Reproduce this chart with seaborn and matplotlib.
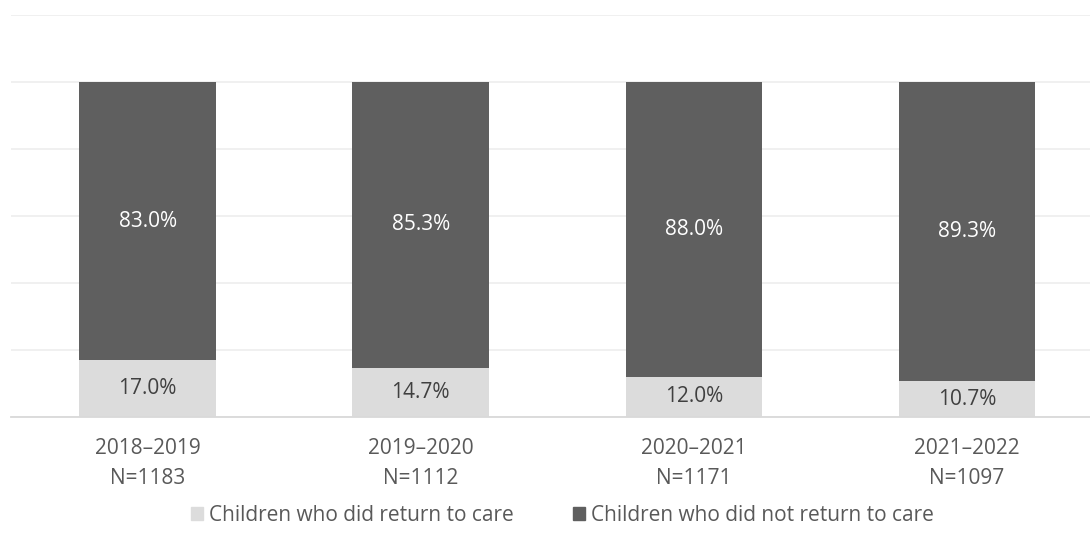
import pandas as pd
import matplotlib.pyplot as plt
import seaborn as sns
from matplotlib.patches import Patch

years = ["2018–2019", "2019–2020", "2020–2021", "2021–2022"]
n_children = [1183, 1112, 1171, 1097]
returned = [17.0, 14.7, 12.0, 10.7]
not_returned = [83.0, 85.3, 88.0, 89.3]

labels = [f"{y}\nN={n}" for y, n in zip(years, n_children)]
df = pd.DataFrame({"label": labels, "returned": returned, "not_returned": not_returned})
df["total"] = df["returned"] + df["not_returned"]

sns.set_theme(style="white")
plt.rcParams["font.family"] = ["Open Sans", "DejaVu Sans"]

light = "#dcdcdc"
dark = "#5f5f5f"
txt = "#404040"

fig = plt.figure(figsize=(10.9, 5.44), dpi=100)
ax = fig.add_axes([11 / 1090, 127 / 544, 1079 / 1090, 402 / 544])

# stacked bars: full height in dark, return share in light on top of it
sns.barplot(data=df, x="label", y="total", color=dark, width=0.5, saturation=1,
            linewidth=0, ax=ax)
sns.barplot(data=df, x="label", y="returned", color=light, width=0.5, saturation=1,
            linewidth=0, ax=ax)

ax.set_ylim(0, 120)
ax.set_xlim(-0.5, 3.45)
ax.set_yticks(range(0, 121, 20))
ax.yaxis.grid(True, color="#efefef", linewidth=1.3)
ax.set_axisbelow(True)
ax.set_yticklabels([])
ax.tick_params(axis="y", length=0)
ax.tick_params(axis="x", length=0, pad=15, labelsize=15, labelcolor="#595959")
for t in ax.get_xticklabels():
    t.set_linespacing(1.55)
ax.set_xlabel("")
ax.set_ylabel("")
for s in ["top", "right", "left"]:
    ax.spines[s].set_visible(False)
ax.spines["bottom"].set_color("#d9d9d9")
ax.spines["bottom"].set_linewidth(1.3)

for i, (r, nr) in enumerate(zip(returned, not_returned)):
    ax.text(i, r / 2, f"{r:.1f}%", ha="center", va="center", fontsize=15, color=txt)
    ax.text(i, r + nr / 2, f"{nr:.1f}%", ha="center", va="center", fontsize=15, color="white")

handles = [Patch(color=light, label="Children who did return to care"),
           Patch(color=dark, label="Children who did not return to care")]
fig.legend(handles=handles, loc="center", bbox_to_anchor=(0.516, 0.053), ncol=2,
           frameon=False, fontsize=15, labelcolor="#595959",
           handlelength=0.6, handleheight=0.6, handletextpad=0.3, columnspacing=2.8)

fig.savefig("out.png", dpi=100)
